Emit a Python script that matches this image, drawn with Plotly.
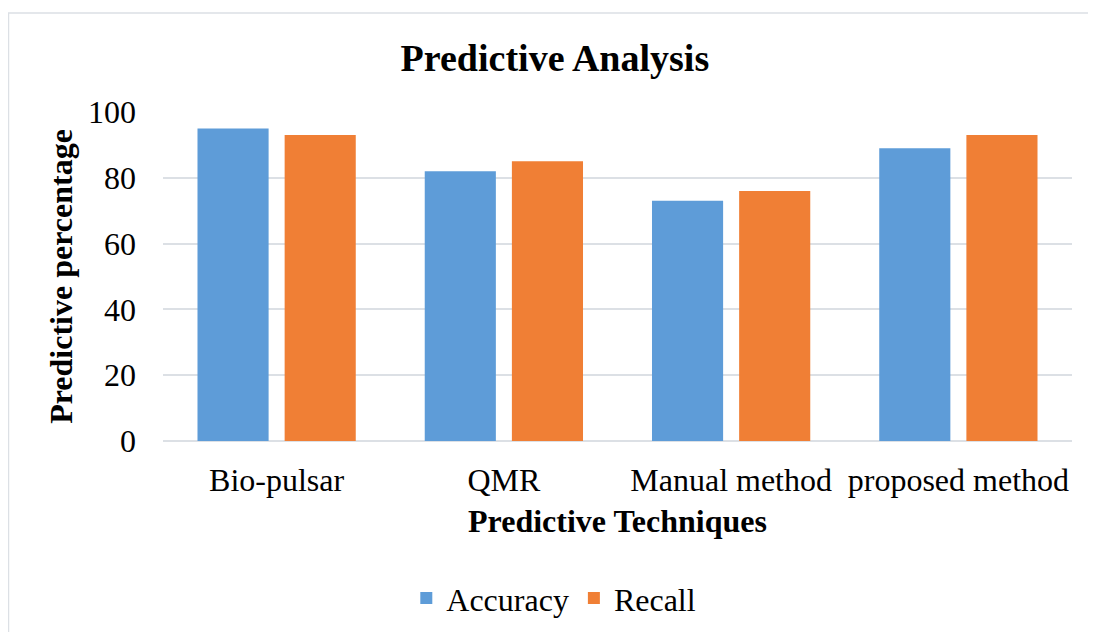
import plotly.graph_objects as go

categories = ["Bio-pulsar", "QMR", "Manual method", "proposed method"]
accuracy = [95, 82, 73, 89]
recall = [93, 85, 76, 93]
y_ticks = [0, 20, 40, 60, 80, 100]

FONT = "Liberation Serif"

fig = go.Figure()
fig.add_trace(go.Bar(name="Accuracy", x=categories, y=accuracy,
                     marker=dict(color="#5E9CD8", line=dict(width=0))))
fig.add_trace(go.Bar(name="Recall", x=categories, y=recall,
                     marker=dict(color="#F07F35", line=dict(width=0))))

fig.update_layout(
    width=1096, height=632,
    paper_bgcolor="white", plot_bgcolor="white",
    margin=dict(l=155, r=32, t=104, b=199),
    barmode="group", bargap=0.233, bargroupgap=0.184,
    font=dict(family=FONT, color="black", size=32),
    title=dict(text="<b>Predictive Analysis</b>", font=dict(size=38, family=FONT),
               xref="container", x=0.499, xanchor="center",
               yref="container", y=0.922, yanchor="middle"),
    legend=dict(orientation="h", xref="container", x=0.498, xanchor="center",
                yref="container", y=0.066, yanchor="middle",
                font=dict(size=32, family=FONT), itemwidth=30),
    xaxis=dict(title=dict(text="<b>Predictive Techniques</b>", font=dict(size=32), standoff=12),
               tickfont=dict(size=32), showline=False, ticks="", ticklabelstandoff=17),
    yaxis=dict(title=dict(text="<b>Predictive percentage</b>", font=dict(size=32), standoff=5),
               range=[0, 100], tickvals=y_ticks, tickfont=dict(size=32),
               showgrid=True, gridcolor="#DCE0E5", gridwidth=1.5,
               zeroline=True, zerolinecolor="#DCE0E5", zerolinewidth=1.5,
               ticks="", ticklabelstandoff=26),
    shapes=[dict(type="rect", xref="paper", yref="paper",
                 x0=-0.17, x1=1.035, y0=-0.62, y1=1.301,
                 line=dict(color="#DCE0E5", width=1.5), fillcolor="rgba(0,0,0,0)", layer="below")],
)

fig.write_html("out.html")
